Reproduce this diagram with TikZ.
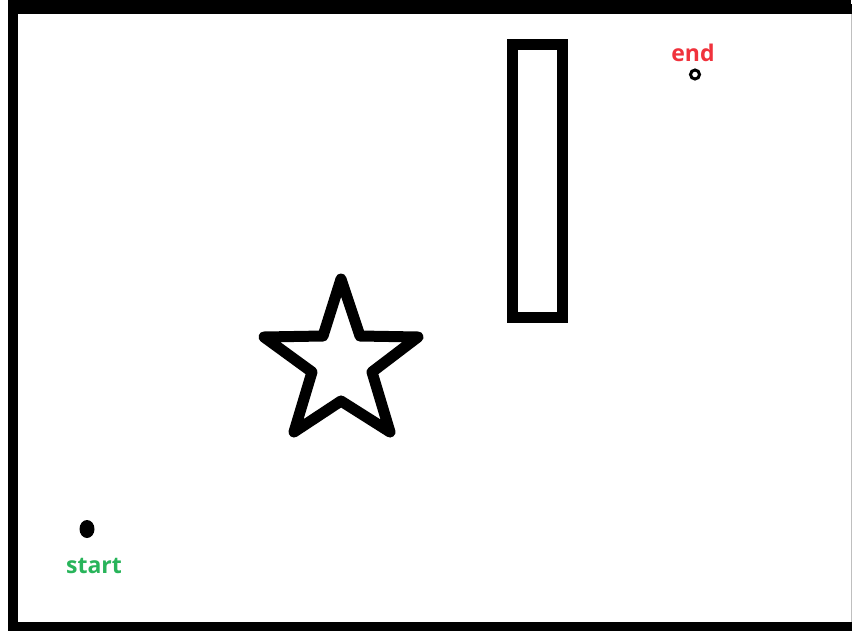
\documentclass[tikz,border=0pt]{standalone}
\usepackage{fontspec}
\setmainfont{Open Sans}
\definecolor{startgreen}{RGB}{40,180,90}
\definecolor{endred}{RGB}{240,50,60}
\tikzset{
  thick line/.style={line width=11pt, line join=round, line cap=round},
  label text/.style={font=\bfseries\fontsize{23}{26}\selectfont, inner sep=0pt}
}
\begin{document}
\begin{tikzpicture}[x=1pt,y=-1pt]
\useasboundingbox (0,0) rectangle (852,630);
\fill[white] (0,0) rectangle (852,630);
\begin{scope}
\clip (0,0) rectangle (852,630);
\draw[line width=10pt] (13,9) rectangle (860,627);
\end{scope}
\draw[line width=10pt] (8,4) -- (851,4);
\draw[gray!50, line width=1pt] (851,14) -- (851,622);
% tall rectangle
\draw[line width=11pt, line join=miter] (512.5,44) rectangle (562.5,317.5);
% star
\draw[thick line] (341,279) -- (360,336) -- (418,337) -- (372,372) -- (390,432)
   -- (341,401) -- (294,432) -- (312,372) -- (264,337) -- (323,336) -- cycle;
% start point
\fill (87,529) ellipse (7.5 and 9);
\node[label text, text=startgreen] (start) at (94,566) {start};
% end point
\draw[line width=3pt] (695,74.5) circle (4.5);
\node[label text, text=endred] (end) at (693,53) {end};
\end{tikzpicture}
\end{document}
